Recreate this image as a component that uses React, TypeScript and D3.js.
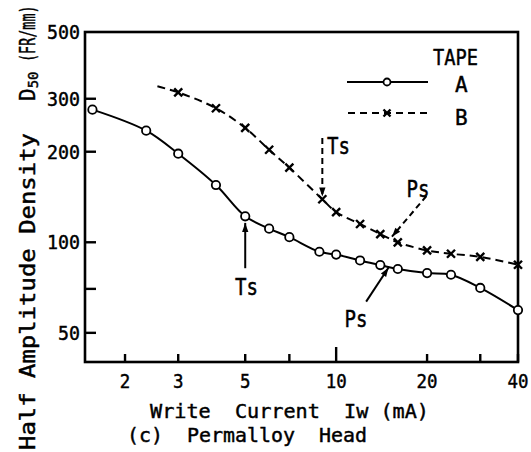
import React from "react";
import * as d3 from "d3";

// ---- data ----
const tapeACurrent = [1.56, 2.35, 3, 4, 5, 6, 7, 8.8, 10, 12, 14, 16, 20, 24, 30, 40];
const tapeADensity = [276, 235, 197, 155, 122, 111, 104, 93, 91, 87, 84, 81.5, 79, 78, 70.5, 59.5];
// first B entry is where the dashed curve starts (no marker drawn there)
const tapeBCurrent = [2.56, 3, 4, 5, 6, 7, 9, 10, 12, 14, 16, 20, 24, 30, 40];
const tapeBDensity = [330, 315, 279, 240, 203, 177, 139, 126, 115, 106.5, 100, 94, 91.6, 89.4, 84.2];
const tapeBMarkerFrom = 1;

const xTicks = [2, 3, 5, 7, 10, 20, 30, 40];
const xTickLabels = [2, 3, 5, 10, 20, 40];
const yTicks = [50, 70, 100, 200, 300];
const yTickLabels = [50, 100, 200, 300, 500];

type Ann = { label: string; x0: number; y0: number; x1: number; y1: number; tx: number; ty: number; dashed: boolean; anchor: string };
const annotations: Ann[] = [
  { label: "Ts", x0: 5, y0: 82, x1: 5, y1: 116, tx: 5.05, ty: 67, dashed: false, anchor: "middle" },
  { label: "Ps", x0: 12.57, y0: 63.5, x1: 14.9, y1: 82.3, tx: 11.64, ty: 52.4, dashed: false, anchor: "middle" },
  { label: "Ts", x0: 9, y0: 222, x1: 9, y1: 142, tx: 9.33, ty: 197, dashed: true, anchor: "start" },
  { label: "Ps", x0: 19.9, y0: 142.5, x1: 15.3, y1: 104.4, tx: 18.67, ty: 141.5, dashed: true, anchor: "middle" },
];

const FONT = "'DejaVu Sans Mono', 'Liberation Mono', monospace";
const TS = { stroke: "#000", strokeWidth: 0.45 };

export default function App() {
  const W = 531, H = 452;
  const left = 85, right = 518, top = 32, bottom = 362;
  const x = d3.scaleLog().domain([1.474, 40]).range([left, right]);
  const y = d3.scaleLog().domain([40, 500]).range([bottom, top]);

  const line = d3
    .line<[number, number]>()
    .x((d) => x(d[0]))
    .y((d) => y(d[1]))
    .curve(d3.curveCatmullRom.alpha(0.5));

  const aPts: [number, number][] = tapeACurrent.map((c, i) => [c, tapeADensity[i]]);
  const bPts: [number, number][] = tapeBCurrent.map((c, i) => [c, tapeBDensity[i]]);

  const cross = (cx: number, cy: number, s: number, key: string) => (
    <path key={key} d={`M${cx - s},${cy - s}L${cx + s},${cy + s}M${cx - s},${cy + s}L${cx + s},${cy - s}`} stroke="#000" strokeWidth={2.4} fill="none" />
  );

  return (
    <svg width={W} height={H} style={{ position: "absolute", left: 0, top: 0, background: "#fff" }}>
      <defs>
        <marker id="ah" viewBox="0 0 10 10" refX="10" refY="5" markerWidth="11" markerHeight="9" markerUnits="userSpaceOnUse" orient="auto">
          <path d="M0,1.5 L10,5 L0,8.5 Z" fill="#000" />
        </marker>
      </defs>
      <rect x={0} y={0} width={W} height={H} fill="#fff" />

      {/* frame */}
      <rect x={left} y={top} width={right - left} height={bottom - top} fill="none" stroke="#000" strokeWidth={2.6} />

      {/* x ticks (inward) */}
      {xTicks.map((t) => (
        <line key={"xt" + t} x1={x(t)} x2={x(t)} y1={bottom} y2={bottom - (t === 10 ? 15 : 8)} stroke="#000" strokeWidth={2.4} />
      ))}
      {xTickLabels.map((t) => (
        <text key={"xl" + t} x={x(t)} y={388} textAnchor="middle" fontFamily={FONT} fontSize={20} {...TS}
          textLength={String(t).length * 10.5} lengthAdjust="spacingAndGlyphs">{t}</text>
      ))}

      {/* y ticks (inward) */}
      {yTicks.map((t) => (
        <line key={"yt" + t} x1={left} x2={left + 11} y1={y(t)} y2={y(t)} stroke="#000" strokeWidth={2.4} />
      ))}
      {yTickLabels.map((t) => (
        <text key={"yl" + t} x={80} y={y(t) + 7} textAnchor="end" fontFamily={FONT} fontSize={20} {...TS}
          textLength={String(t).length * 11} lengthAdjust="spacingAndGlyphs">{t}</text>
      ))}

      {/* curves */}
      <path d={line(aPts) || ""} fill="none" stroke="#000" strokeWidth={2} />
      <path d={line(bPts) || ""} fill="none" stroke="#000" strokeWidth={2} strokeDasharray="8,5" />

      {aPts.map((p, i) => (
        <circle key={"a" + i} cx={x(p[0])} cy={y(p[1])} r={4.2} fill="#fff" stroke="#000" strokeWidth={1.8} />
      ))}
      {bPts.slice(tapeBMarkerFrom).map((p, i) => cross(x(p[0]), y(p[1]), 4, "b" + i))}

      {/* annotations */}
      {annotations.map((a, i) => (
        <g key={"ann" + i}>
          <line x1={x(a.x0)} y1={y(a.y0)} x2={x(a.x1)} y2={y(a.y1)} stroke="#000" strokeWidth={2}
            strokeDasharray={a.dashed ? "6,4" : undefined} markerEnd="url(#ah)" />
          <text x={x(a.tx)} y={y(a.ty)} textAnchor={a.anchor} fontFamily={FONT} fontSize={23} {...TS}
            textLength={23} lengthAdjust="spacingAndGlyphs">{a.label}</text>
        </g>
      ))}

      {/* legend */}
      <text x={433} y={65} fontFamily={FONT} fontSize={22} {...TS} textLength={45} lengthAdjust="spacingAndGlyphs">TAPE</text>
      <line x1={347} x2={428} y1={82} y2={82} stroke="#000" strokeWidth={2} />
      <circle cx={387} cy={82} r={3.5} fill="#fff" stroke="#000" strokeWidth={1.8} />
      <text x={455} y={92} fontFamily={FONT} fontSize={21} {...TS}>A</text>
      <line x1={348} x2={429} y1={113} y2={113} stroke="#000" strokeWidth={2} strokeDasharray="7,5" />
      {cross(387, 113, 3.5, "legB")}
      <text x={455} y={125} fontFamily={FONT} fontSize={21} {...TS}>B</text>

      {/* axis titles */}
      <text x={150} y={418} fontFamily={FONT} fontSize={20} {...TS} textLength={279} lengthAdjust="spacingAndGlyphs" xmlSpace="preserve">Write  Current  Iw (mA)</text>
      <text x={127} y={442} fontFamily={FONT} fontSize={20} {...TS} textLength={240} lengthAdjust="spacingAndGlyphs" xmlSpace="preserve">(c)  Permalloy  Head</text>

      <g transform="translate(35,450) rotate(-90)">
        <text x={0} y={0} fontFamily={FONT} fontSize={21} {...TS} textLength={317} lengthAdjust="spacingAndGlyphs">Half Amplitude Density</text>
        <text x={349} y={0} fontFamily={FONT} fontSize={21} {...TS}>D<tspan fontSize={14} dy={3}>50</tspan></text>
        <g transform="translate(388,0) scale(0.64,1)">
          <text x={0} y={0} fontFamily={FONT} fontSize={21} {...TS}>(FR/mm)</text>
        </g>
      </g>
    </svg>
  );
}
